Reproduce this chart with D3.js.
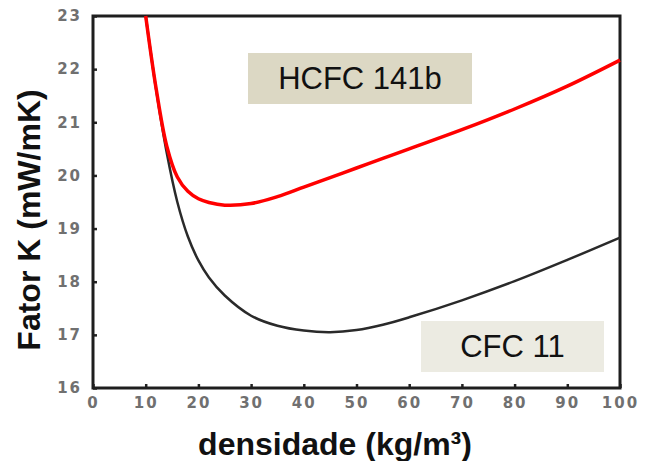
<!DOCTYPE html>
<html>
<head>
<meta charset="utf-8">
<script src="https://cdn.jsdelivr.net/npm/d3@7"></script>
<style>
  body { margin: 0; background: #fff; }
  svg { display: block; }
</style>
</head>
<body>
<div id="chart"></div>
<script>
// Datos
const densidade = [10, 12, 14, 16, 18, 20, 22, 25, 30, 35, 40, 45, 50, 55, 60, 70, 80, 90, 100];
const hcfc141b = [23.0, 21.62, 20.55, 19.97, 19.7, 19.56, 19.49, 19.44, 19.47, 19.6, 19.78, 19.96, 20.14, 20.32, 20.5, 20.86, 21.25, 21.68, 22.17];
const cfc11 = [23.0, 21.6, 20.42, 19.5, 18.85, 18.4, 18.08, 17.74, 17.36, 17.17, 17.08, 17.05, 17.09, 17.19, 17.33, 17.65, 18.01, 18.41, 18.83];
const xTicks = [0, 10, 20, 30, 40, 50, 60, 70, 80, 90, 100];
const yTicks = [16, 17, 18, 19, 20, 21, 22, 23];

const W = 651, H = 461;
const margin = { top: 16, right: 31, bottom: 73, left: 93 };
const width = W - margin.left - margin.right;
const height = H - margin.top - margin.bottom;

const svg = d3.select('#chart')
    .append('svg')
    .attr('width', W)
    .attr('height', H);

const g = svg.append('g')
    .attr('transform', `translate(${margin.left},${margin.top})`);

// Escalas
const x = d3.scaleLinear().domain([0, 100]).range([0, width]);
const y = d3.scaleLinear().domain([16, 23]).range([height, 0]);

// Ejes con marcas hacia dentro
const xAxis = g.append('g')
    .attr('transform', `translate(0,${height})`)
    .call(d3.axisBottom(x).tickValues(xTicks).tickFormat(d3.format('d')).tickSize(-4).tickPadding(9));
const yAxis = g.append('g')
    .call(d3.axisLeft(y).tickValues(yTicks).tickFormat(d3.format('d')).tickSize(-4).tickPadding(11));

[xAxis, yAxis].forEach(a => {
    a.select('.domain').remove();
    a.selectAll('.tick line').attr('stroke', '#222').attr('stroke-width', 2.5);
    a.selectAll('.tick text')
        .attr('fill', '#707070')
        .style('font-family', '"DejaVu Sans", sans-serif')
        .style('font-weight', 'bold')
        .style('font-size', '15px')
        .style('letter-spacing', '2px');
});

// Marco
g.append('rect')
    .attr('x', 0).attr('y', 0)
    .attr('width', width).attr('height', height)
    .attr('fill', 'none')
    .attr('stroke', '#1e1e1e')
    .attr('stroke-width', 3);

// Líneas
const line = series => d3.line()
    .x((d, i) => x(densidade[i]))
    .y(d => y(d))
    .curve(d3.curveCatmullRom.alpha(0.5))(series);

g.append('path')
    .attr('d', line(cfc11))
    .attr('fill', 'none')
    .attr('stroke', '#2a2a2a')
    .attr('stroke-width', 2.5);

g.append('path')
    .attr('d', line(hcfc141b))
    .attr('fill', 'none')
    .attr('stroke', '#ff0000')
    .attr('stroke-width', 3.5);

// Etiquetas en cajas
const labels = [
    { text: 'HCFC 141b', x0: 248, y0: 53, w: 224, h: 51, fill: '#dcd8c4' },
    { text: 'CFC 11', x0: 421, y0: 321, w: 183, h: 51, fill: '#ecebe2' }
];
labels.forEach(l => {
    svg.append('rect')
        .attr('x', l.x0).attr('y', l.y0)
        .attr('width', l.w).attr('height', l.h)
        .attr('fill', l.fill);
    svg.append('text')
        .attr('x', l.x0 + l.w / 2)
        .attr('y', l.y0 + 36)
        .attr('text-anchor', 'middle')
        .style('font-family', '"Liberation Sans", Arial, sans-serif')
        .style('font-size', '31px')
        .attr('fill', '#111')
        .text(l.text);
});

// Títulos de los ejes
svg.append('text')
    .attr('x', 335)
    .attr('y', 455)
    .attr('text-anchor', 'middle')
    .style('font-family', '"Liberation Sans", Arial, sans-serif')
    .style('font-weight', 'bold')
    .style('font-size', '32px')
    .attr('fill', '#111')
    .text('densidade (kg/m³)');

svg.append('text')
    .attr('transform', 'translate(40,220) rotate(-90)')
    .attr('text-anchor', 'middle')
    .style('font-family', '"Liberation Sans", Arial, sans-serif')
    .style('font-weight', 'bold')
    .style('font-size', '32px')
    .attr('fill', '#111')
    .text('Fator K (mW/mK)');
</script>
</body>
</html>
